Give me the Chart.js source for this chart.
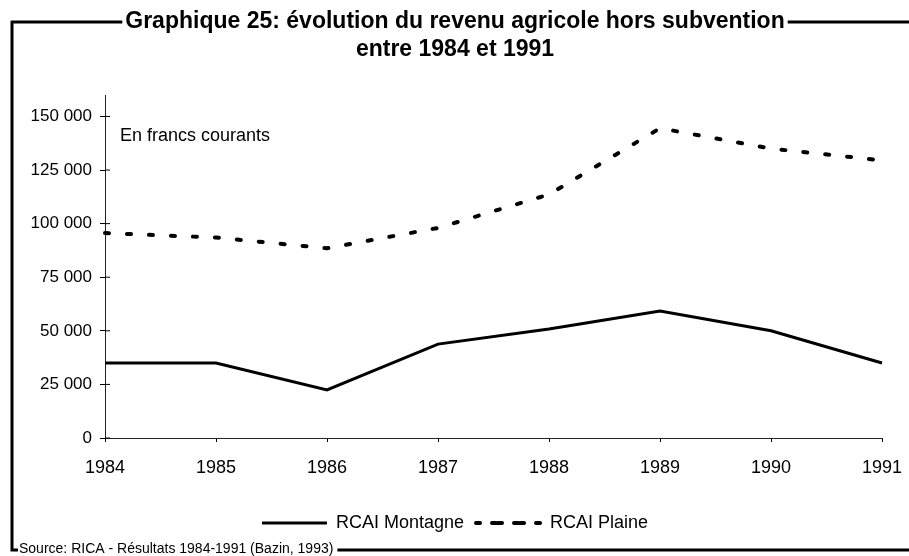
<!DOCTYPE html>
<html lang="fr">
<head>
    <meta charset="UTF-8">
    <title>Graphique 25</title>
    <style>
        html, body { margin: 0; padding: 0; background: #fff; }
        .wrap { position: relative; width: 909px; height: 556px; }
    </style>
</head>
<body>
    <div class="wrap"><canvas id="chart" width="909" height="556"></canvas></div>
    <script src="https://cdn.jsdelivr.net/npm/chart.js"></script>
    <script>
        const years = ['1984', '1985', '1986', '1987', '1988', '1989', '1990', '1991'];
        const montagne = [35000, 35000, 22400, 43800, 50800, 59200, 50000, 35000];
        const plaine = [95600, 93500, 88500, 98000, 113600, 144500, 135000, 129500];
        const yTicks = [0, 25000, 50000, 75000, 100000, 125000, 150000];

        const titleLines = ['Graphique 25: évolution du revenu agricole hors subvention', 'entre 1984 et 1991'];
        const note = 'En francs courants';
        const source = 'Source: RICA - Résultats 1984-1991 (Bazin, 1993)';

        const FONT = "'Liberation Sans', Arial, sans-serif";
        const TITLE_SIZE = 23;

        // border around the figure, broken by the title and the source line
        const framePlugin = {
            id: 'frame',
            afterDraw(chart) {
                const ctx = chart.ctx;
                ctx.save();
                ctx.strokeStyle = '#000';
                ctx.fillStyle = '#000';

                ctx.font = 'bold ' + TITLE_SIZE + 'px ' + FONT;
                const tw = ctx.measureText(titleLines[0]).width;
                const cx = (chart.titleBlock.left + chart.titleBlock.right) / 2;
                ctx.lineWidth = 3;
                ctx.beginPath();
                ctx.moveTo(11, 22);
                ctx.lineTo(cx - tw / 2 - 3, 22);
                ctx.moveTo(cx + tw / 2 + 3, 22);
                ctx.lineTo(909, 22);
                ctx.stroke();

                ctx.beginPath();
                ctx.moveTo(12, 21);
                ctx.lineTo(12, 550);
                ctx.lineTo(18, 550);
                ctx.stroke();

                ctx.font = '14px ' + FONT;
                ctx.textBaseline = 'middle';
                ctx.fillText(source, 19, 549);
                const sw = ctx.measureText(source).width;
                ctx.beginPath();
                ctx.moveTo(19 + sw + 4, 550);
                ctx.lineTo(909, 550);
                ctx.stroke();

                // note inside the plot
                ctx.font = '18px ' + FONT;
                ctx.fillText(note, chart.chartArea.left + 15, 136);

                // inner half of the y tick crosses
                const y = chart.scales.y;
                ctx.lineWidth = 1;
                ctx.beginPath();
                y.ticks.forEach(t => {
                    const py = y.getPixelForValue(t.value);
                    ctx.moveTo(chart.chartArea.left, py);
                    ctx.lineTo(chart.chartArea.left + 5, py);
                });
                ctx.stroke();
                ctx.restore();
            }
        };

        new Chart(document.getElementById('chart'), {
            type: 'line',
            data: {
                labels: years,
                datasets: [
                    {
                        label: 'RCAI Montagne',
                        data: montagne,
                        borderColor: '#000',
                        backgroundColor: '#000',
                        borderWidth: 3,
                        pointRadius: 0,
                        tension: 0
                    },
                    {
                        label: 'RCAI Plaine',
                        data: plaine,
                        borderColor: '#000',
                        backgroundColor: '#000',
                        borderWidth: 4,
                        borderDash: [4, 18],
                        borderCapStyle: 'round',
                        pointRadius: 0,
                        tension: 0
                    }
                ]
            },
            options: {
                responsive: false,
                animation: false,
                layout: { padding: { top: 8, left: 28, right: 27, bottom: 14 } },
                plugins: {
                    title: {
                        display: true,
                        text: titleLines,
                        color: '#000',
                        font: { family: FONT, size: TITLE_SIZE, weight: 'bold', lineHeight: 28 / TITLE_SIZE },
                        padding: { top: 0, bottom: 31 }
                    },
                    legend: {
                        position: 'bottom',
                        labels: {
                            color: '#000',
                            font: { family: FONT, size: 18 },
                            boxWidth: 65,
                            boxHeight: 0,
                            padding: 12
                        }
                    },
                    tooltip: { enabled: false }
                },
                scales: {
                    x: {
                        offset: false,
                        grid: { drawOnChartArea: false, tickLength: 4, color: '#000' },
                        border: { color: '#222', width: 1 },
                        ticks: { color: '#000', font: { family: FONT, size: 18 }, padding: 15, maxRotation: 0 },
                        afterFit(scale) {
                            scale.height = 64;
                            scale.paddingLeft = 0;
                            scale.paddingRight = 0;
                        }
                    },
                    y: {
                        min: 0,
                        max: 160000,
                        afterBuildTicks(scale) {
                            scale.ticks = yTicks.map(v => ({ value: v }));
                        },
                        grid: { drawOnChartArea: false, tickLength: 5, color: '#000' },
                        border: { color: '#222', width: 1, dash: [8, 2, 2, 2] },
                        ticks: {
                            color: '#000',
                            font: { family: FONT, size: 17 },
                            padding: 8,
                            callback: v => v === 0 ? '0' : (v / 1000) + ' 000'
                        },
                        afterFit(scale) { scale.width = 77; }
                    }
                }
            },
            plugins: [framePlugin]
        });
    </script>
</body>
</html>
